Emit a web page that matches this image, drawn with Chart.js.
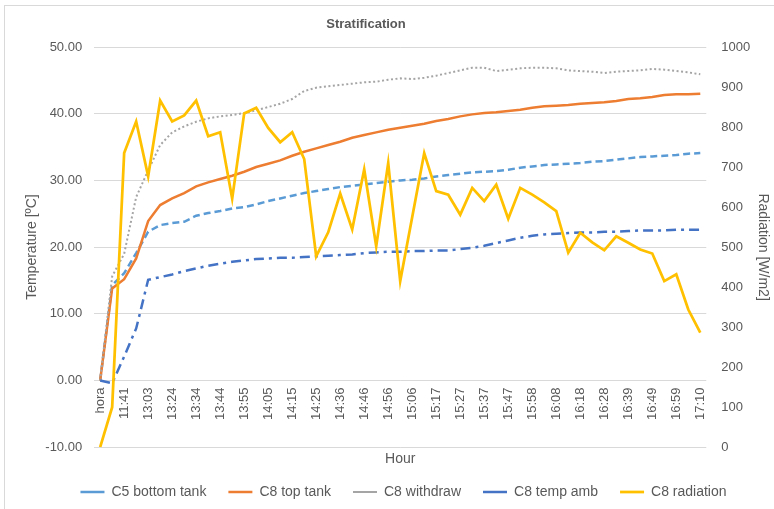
<!DOCTYPE html>
<html lang="en">
<head>
<meta charset="UTF-8">
<title>Stratification</title>
<script src="https://cdn.jsdelivr.net/npm/chart.js@4.4.1/dist/chart.umd.min.js"></script>
<style>
  html, body { margin: 0; padding: 0; background: #fff; }
  #wrap { position: relative; width: 774px; height: 509px; overflow: hidden; }
  #frame { position: absolute; left: 4px; top: 5px; width: 780px; height: 520px; border: 1px solid #d9d9d9; pointer-events: none; }
</style>
</head>
<body>
<div id="wrap">
  <canvas id="chart" width="774" height="509"></canvas>
  <div id="frame"></div>
</div>
<script>
// labels shown on the axis (one every second reading)
const tickLabels = ['hora', '11:41', '13:03', '13:24', '13:34', '13:44', '13:55', '14:05', '14:15', '14:25',
  '14:36', '14:46', '14:56', '15:06', '15:17', '15:27', '15:37', '15:47', '15:58', '16:08',
  '16:18', '16:28', '16:39', '16:49', '16:59', '17:10'];

// temperatures [ºC]
const bottomTank = [0, 14.3, 16.1, 19.1, 22.3, 23.3, 23.6, 23.8, 24.7, 25.1,
  25.4, 25.8, 26.0, 26.4, 26.9, 27.3, 27.7, 28.1, 28.4, 28.7,
  29.0, 29.2, 29.4, 29.6, 29.8, 30.0, 30.1, 30.3, 30.6, 30.8,
  31.0, 31.2, 31.3, 31.4, 31.6, 31.9, 32.1, 32.3, 32.4, 32.5,
  32.6, 32.8, 32.9, 33.1, 33.3, 33.5, 33.6, 33.7, 33.8, 34.0, 34.1];
const topTank = [0, 13.8, 15.2, 18.3, 23.9, 26.3, 27.3, 28.1, 29.1, 29.7,
  30.2, 30.7, 31.3, 32.0, 32.5, 33.0, 33.7, 34.3, 34.8, 35.3,
  35.8, 36.4, 36.8, 37.2, 37.6, 37.9, 38.2, 38.5, 38.9, 39.2,
  39.6, 39.9, 40.1, 40.2, 40.4, 40.6, 40.9, 41.1, 41.2, 41.3,
  41.5, 41.6, 41.7, 41.9, 42.2, 42.3, 42.5, 42.8, 42.9, 42.9, 43.0];
const withdraw = [0, 15.6, 19.0, 27.5, 31.5, 35.3, 37.2, 38.1, 38.8, 39.3,
  39.6, 39.8, 40.1, 40.5, 41.0, 41.5, 42.2, 43.4, 43.9, 44.1,
  44.3, 44.5, 44.7, 44.8, 45.1, 45.3, 45.2, 45.4, 45.7, 46.1,
  46.5, 46.9, 46.9, 46.4, 46.6, 46.8, 46.9, 46.9, 46.8, 46.5,
  46.4, 46.3, 46.1, 46.3, 46.4, 46.5, 46.7, 46.6, 46.4, 46.2, 45.9];
const tempAmb = [0, -0.4, 3.6, 7.8, 15.1, 15.5, 15.9, 16.4, 16.8, 17.2,
  17.5, 17.8, 18.0, 18.2, 18.3, 18.4, 18.4, 18.5, 18.6, 18.7,
  18.8, 18.9, 19.1, 19.2, 19.3, 19.3, 19.4, 19.4, 19.5, 19.5,
  19.7, 19.9, 20.2, 20.6, 21.0, 21.4, 21.7, 21.9, 22.0, 22.1,
  22.2, 22.2, 22.3, 22.3, 22.4, 22.5, 22.5, 22.5, 22.6, 22.6, 22.6];
// radiation [W/m2]
const radiation = [0, 100, 735, 814, 677, 866, 814, 829, 866, 777,
  787, 621, 834, 848, 798, 762, 787, 720, 477, 537,
  634, 544, 694, 502, 710, 415, 575, 735, 640, 631,
  581, 648, 615, 656, 571, 648, 631, 612, 590, 486,
  536, 512, 492, 527, 511, 494, 484, 415, 432, 344, 286];

// every reading gets a slot, only every second one is labelled
const categories = [];
tickLabels.forEach((t, i) => {
  if (i > 0) categories.push('');
  categories.push(t);
});

const txt = '#595959';
const fontName = '"Liberation Sans", Arial, sans-serif';

const titlePlugin = {
  id: 'chartTitle',
  afterDraw(chart) {
    const ctx = chart.ctx;
    ctx.save();
    ctx.font = 'bold 13px ' + fontName;
    ctx.fillStyle = txt;
    ctx.textAlign = 'center';
    ctx.textBaseline = 'middle';
    ctx.fillText('Stratification', 366, 24);
    ctx.restore();
  }
};

const line = (label, data, color, width, dash, order, axis) => ({
  label, data, order,
  yAxisID: axis || 'y',
  xAxisID: 'x',
  borderColor: color,
  backgroundColor: color,
  borderWidth: width,
  borderDash: dash,
  pointRadius: 0,
  tension: 0,
  fill: false
});

new Chart(document.getElementById('chart'), {
  type: 'line',
  data: {
    labels: categories,
    datasets: [
      line('C5 bottom tank', bottomTank, '#5B9BD5', 2.5, [7, 4], 5),
      line('C8 top tank', topTank, '#ED7D31', 2.5, [], 4),
      line('C8 withdraw', withdraw, '#A5A5A5', 2, [2, 2.5], 3),
      line('C8 temp amb', tempAmb, '#4472C4', 2.5, [10, 5, 3, 5], 2),
      line('C8 radiation', radiation, '#FFC000', 2.75, [], 1, 'y1')
    ]
  },
  options: {
    responsive: false,
    animation: false,
    devicePixelRatio: 1,
    layout: { padding: { top: 47, left: 34, right: 1, bottom: 0 } },
    plugins: {
      title: { display: false },
      tooltip: { enabled: false },
      legend: {
        position: 'bottom',
        labels: {
          color: txt,
          font: { family: fontName, size: 14 },
          usePointStyle: true,
          pointStyle: 'line',
          pointStyleWidth: 24,
          padding: 22,
          sort: (a, b) => a.datasetIndex - b.datasetIndex
        }
      }
    },
    scales: {
      x: {
        type: 'category',
        offset: true,
        position: { y: 0 },
        grid: { display: false, drawTicks: false },
        border: { display: false },
        ticks: {
          autoSkip: false,
          maxRotation: 90,
          minRotation: 90,
          padding: 7,
          color: txt,
          font: { family: fontName, size: 13 }
        }
      },
      xHour: {
        type: 'category',
        position: 'bottom',
        grid: { display: false, drawTicks: false },
        border: { display: false },
        ticks: { display: false },
        title: {
          display: true,
          text: 'Hour',
          color: txt,
          font: { family: fontName, size: 14 },
          padding: { top: 4, bottom: -5 }
        }
      },
      y: {
        position: 'left',
        min: -10,
        max: 50,
        ticks: {
          stepSize: 10,
          padding: 12,
          color: txt,
          font: { family: fontName, size: 13 },
          callback: v => v.toFixed(2)
        },
        grid: { color: '#D9D9D9', drawTicks: false },
        border: { display: false },
        title: {
          display: true,
          text: 'Temperature [ºC]',
          color: txt,
          font: { family: fontName, size: 14 },
          padding: { top: -10, bottom: -7.5 }
        }
      },
      y1: {
        position: 'right',
        min: 0,
        max: 1000,
        ticks: {
          stepSize: 100,
          padding: 15,
          color: txt,
          font: { family: fontName, size: 13 },
          callback: v => String(v)
        },
        grid: { drawOnChartArea: false, drawTicks: false },
        border: { display: false },
        title: {
          display: true,
          text: 'Radiation [W/m2]',
          color: txt,
          font: { family: fontName, size: 14 },
          padding: { top: 2, bottom: -11 }
        }
      }
    }
  },
  plugins: [titlePlugin]
});
</script>
</body>
</html>
